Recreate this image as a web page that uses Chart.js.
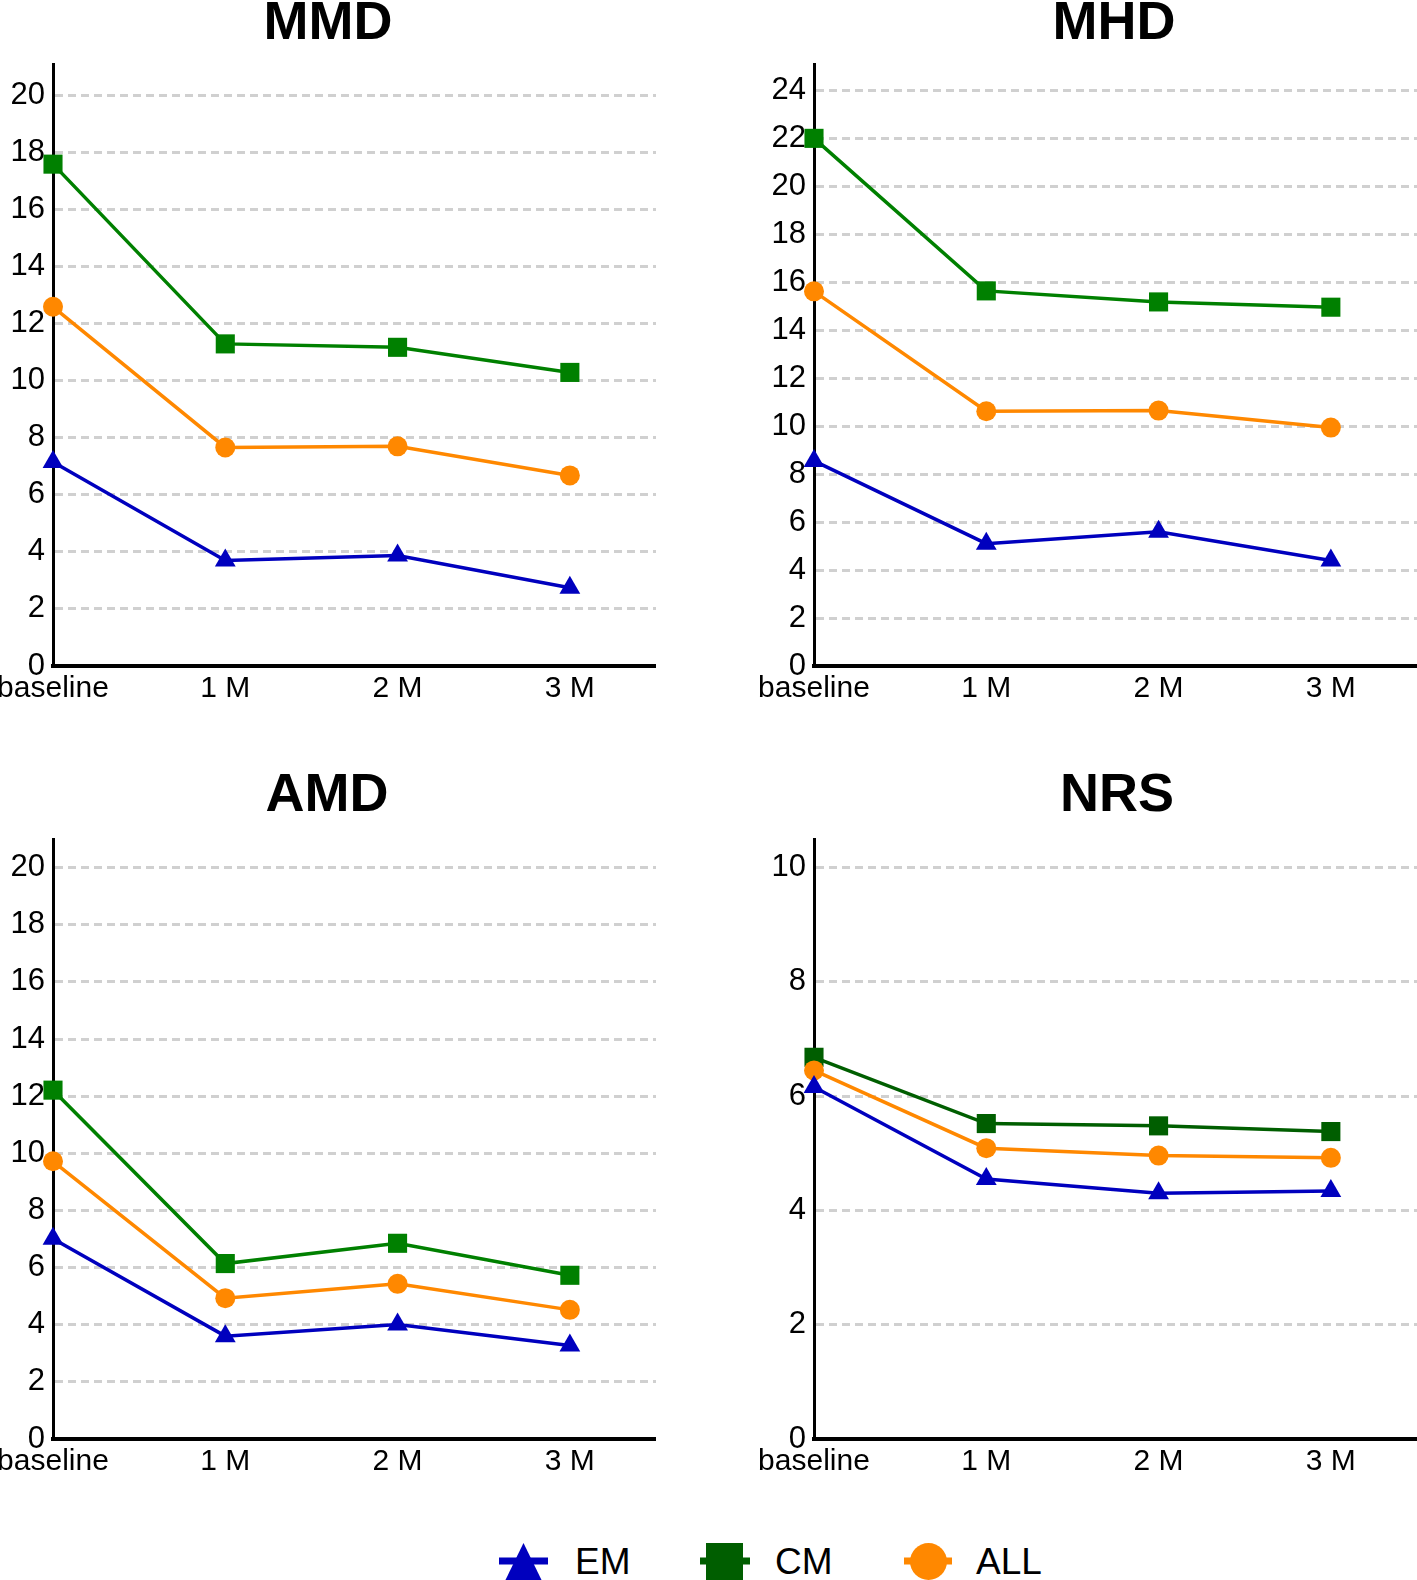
<!DOCTYPE html>
<html>
<head>
<meta charset="utf-8">
<script src="https://cdn.jsdelivr.net/npm/chart.js@4/dist/chart.umd.min.js"></script>
<style>
  body { margin: 0; width: 1417px; height: 1580px; overflow: hidden; background: #fff; position: relative;
         font-family: "Liberation Sans", Arial, Helvetica, sans-serif; }
  canvas { position: absolute; }
  .ttl { position: absolute; width: 400px; text-align: center; font-weight: bold; font-size: 54px; line-height: 54px; color: #000; }
  #legend { position: absolute; left: 0; top: 1500px; }
</style>
</head>
<body>
<div class="ttl" style="left:128px; top:-7px">MMD</div>
<div class="ttl" style="left:914px; top:-7px">MHD</div>
<div class="ttl" style="left:127px; top:765px">AMD</div>
<div class="ttl" style="left:917px; top:765px">NRS</div>

<canvas id="mmd" width="656" height="672" style="left:0; top:44px"></canvas>
<canvas id="mhd" width="677" height="672" style="left:740px; top:44px"></canvas>
<canvas id="amd" width="656" height="670" style="left:0; top:819px"></canvas>
<canvas id="nrs" width="677" height="670" style="left:740px; top:819px"></canvas>

<svg id="legend" width="1417" height="80">
  <line x1="499" y1="61" x2="548" y2="61" stroke="#0000BE" stroke-width="7"/>
  <polygon points="523.5,43 504,83 543,83" fill="#0000BE"/>
  <text x="575" y="74" font-size="37" fill="#000">EM</text>
  <line x1="700" y1="61" x2="750" y2="61" stroke="#005E00" stroke-width="7"/>
  <rect x="706" y="43" width="37" height="37" fill="#005E00"/>
  <text x="775" y="74" font-size="37" fill="#000">CM</text>
  <line x1="904" y1="61" x2="952" y2="61" stroke="#FF8800" stroke-width="7"/>
  <circle cx="928.5" cy="61.5" r="18.5" fill="#FF8800"/>
  <text x="976" y="74" font-size="37" fill="#000">ALL</text>
</svg>

<script>
const categories = ["baseline", "1 M", "2 M", "3 M"];

const mmdEM  = [7.15, 3.70, 3.87, 2.74];
const mmdCM  = [17.59, 11.29, 11.17, 10.29];
const mmdALL = [12.59, 7.66, 7.70, 6.68];

const mhdEM  = [8.55, 5.10, 5.60, 4.40];
const mhdCM  = [22.0, 15.64, 15.18, 14.96];
const mhdALL = [15.62, 10.62, 10.65, 9.94];

const amdEM  = [7.01, 3.60, 4.01, 3.27];
const amdCM  = [12.21, 6.14, 6.85, 5.73];
const amdALL = [9.72, 4.93, 5.43, 4.52];

const nrsEM  = [6.16, 4.55, 4.30, 4.34];
const nrsCM  = [6.68, 5.52, 5.48, 5.38];
const nrsALL = [6.45, 5.09, 4.96, 4.92];

const BLUE = "#0000BE";
const GREEN = "#008000";
const DARKGREEN = "#005E00";
const ORANGE = "#FF8800";
const FONT = "'Liberation Sans', Arial, Helvetica, sans-serif";

function series(label, values, color, style, radius) {
    return {
        label: label,
        data: values.map((v, i) => ({ x: i, y: v })),
        borderColor: color,
        backgroundColor: color,
        borderWidth: 3.5,
        pointStyle: style,
        pointRadius: radius,
        pointBorderWidth: 0,
        pointBackgroundColor: color,
        tension: 0,
        clip: false
    };
}

function drawChart(id, em, cm, all, yMax, cmColor, yWidth) {
    new Chart(document.getElementById(id), {
        type: "line",
        data: {
            // drawn last = on top: EM over ALL over CM
            datasets: [
                series("EM", em, BLUE, "triangle", 12),
                series("ALL", all, ORANGE, "circle", 10),
                series("CM", cm, cmColor, "rect", 13.5)
            ]
        },
        options: {
            responsive: false,
            animation: false,
            layout: { autoPadding: false, padding: { top: 20, left: 0, right: 0, bottom: 0 } },
            plugins: { legend: { display: false }, tooltip: { enabled: false } },
            scales: {
                x: {
                    type: "linear",
                    min: 0,
                    max: 3.5,
                    grid: { display: false, drawTicks: false },
                    border: { display: true, color: "#000", width: 4 },
                    ticks: {
                        stepSize: 1,
                        includeBounds: false,
                        autoSkip: false,
                        maxRotation: 0,
                        padding: 5,
                        color: "#000",
                        font: { size: 30, family: FONT },
                        callback: (v) => categories[v] ?? ""
                    },
                    afterFit: (s) => { s.height = 50; s.paddingLeft = 0; s.paddingRight = 0; }
                },
                y: {
                    min: 0,
                    max: yMax,
                    grid: {
                        drawTicks: false,
                        lineWidth: 3,
                        color: (c) => (c.tick && c.tick.value === 0) ? "rgba(0,0,0,0)" : "#d0d0d0"
                    },
                    border: { display: true, color: "#000", width: 3, dash: [8, 5] },
                    ticks: {
                        stepSize: 2,
                        includeBounds: false,
                        padding: 8,
                        color: "#000",
                        font: { size: 31, family: FONT }
                    },
                    afterFit: (s) => { s.width = yWidth; s.paddingTop = 0; s.paddingBottom = 0; }
                }
            }
        }
    });
}

drawChart("mmd", mmdEM, mmdCM, mmdALL, 21.1, GREEN, 53);
drawChart("mhd", mhdEM, mhdCM, mhdALL, 25.1, GREEN, 74);
drawChart("amd", amdEM, amdCM, amdALL, 21, GREEN, 53);
drawChart("nrs", nrsEM, nrsCM, nrsALL, 10.5, DARKGREEN, 74);
</script>
</body>
</html>
